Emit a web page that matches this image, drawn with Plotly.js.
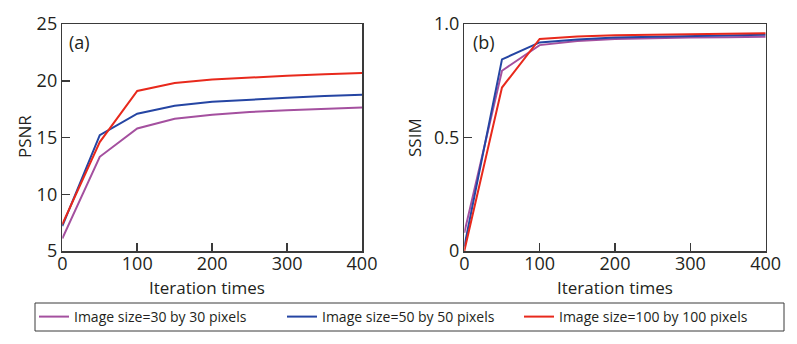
<!DOCTYPE html>
<html>
<head>
<meta charset="utf-8">
<script src="https://cdn.plot.ly/plotly-3.0.1.min.js"></script>
<style>
  body { margin: 0; background: #fff; }
  #chart { width: 797px; height: 344px; }
</style>
</head>
<body>
<div id="chart"></div>
<script>
// iteration counts
const iters = [0, 50, 100, 150, 200, 250, 300, 350, 400];

// PSNR per image size
const psnr30  = [6.1, 13.3, 15.8, 16.65, 17.0, 17.25, 17.4, 17.5, 17.65];
const psnr50  = [7.2, 15.2, 17.1, 17.8, 18.15, 18.35, 18.5, 18.65, 18.77];
const psnr100 = [7.35, 14.6, 19.1, 19.8, 20.1, 20.3, 20.45, 20.57, 20.68];

// SSIM per image size
const ssim30  = [0.08, 0.794, 0.907, 0.925, 0.934, 0.938, 0.940, 0.942, 0.944];
const ssim50  = [0.02, 0.844, 0.919, 0.932, 0.940, 0.944, 0.947, 0.950, 0.953];
const ssim100 = [0.0, 0.72, 0.934, 0.945, 0.950, 0.953, 0.955, 0.957, 0.959];

const names = ["Image size=30 by 30 pixels", "Image size=50 by 50 pixels", "Image size=100 by 100 pixels"];
const colors = ["#a4509f", "#2545a3", "#e8291c"];
const legendIds = ["legend", "legend2", "legend3"];

const psnrAll = [psnr30, psnr50, psnr100];
const ssimAll = [ssim30, ssim50, ssim100];

let data = [];
for (let k = 0; k < 3; k++) {
    data.push({
        x: iters, y: psnrAll[k], xaxis: "x", yaxis: "y",
        type: "scatter", mode: "lines", name: names[k],
        line: {color: colors[k], width: 2},
        legend: legendIds[k],
    });
}
for (let k = 0; k < 3; k++) {
    data.push({
        x: iters, y: ssimAll[k], xaxis: "x2", yaxis: "y2",
        type: "scatter", mode: "lines", name: names[k],
        line: {color: colors[k], width: 2},
        showlegend: false,
    });
}

const tickFont = {family: "Open Sans, sans-serif", size: 18, color: "#231f20"};
const titleFont = {family: "Open Sans, sans-serif", size: 17, color: "#231f20"};

function axisStyle() {
    return {
        showline: true, mirror: true, linecolor: "#3a3a3a", linewidth: 1.5,
        ticks: "inside", ticklen: 8, tickwidth: 1.5, tickcolor: "#3a3a3a",
        showgrid: false, zeroline: false, tickfont: tickFont,
    };
}

const legFont = {family: "Open Sans, sans-serif", size: 14, color: "#231f20"};
function legendAt(x) {
    return {
        x: x, y: 1 - 317 / 344, xanchor: "left", yanchor: "middle",
        orientation: "h", bgcolor: "rgba(0,0,0,0)", borderwidth: 0,
        font: legFont,
    };
}

// axis titles placed as paper annotations so they sit where the reference has them
function label(text, x, y, angle) {
    return {text: text, xref: "paper", yref: "paper", x: x / 797, y: 1 - y / 344,
            xanchor: "center", yanchor: "middle", showarrow: false,
            textangle: angle, font: titleFont};
}

let layout = {
    width: 797, height: 344,
    margin: {l: 0, r: 0, t: 0, b: 0},
    paper_bgcolor: "#fff", plot_bgcolor: "#fff",
    xaxis: Object.assign(axisStyle(), {
        domain: [62.3 / 797, 362 / 797], range: [0, 400],
        tickvals: [0, 100, 200, 300, 400], anchor: "y", ticklabelstandoff: -4,
    }),
    yaxis: Object.assign(axisStyle(), {
        domain: [1 - 251 / 344, 1 - 24 / 344], range: [5, 25],
        tickvals: [5, 10, 15, 20, 25], anchor: "x",
    }),
    xaxis2: Object.assign(axisStyle(), {
        domain: [464.3 / 797, 765.7 / 797], range: [0, 400],
        tickvals: [0, 100, 200, 300, 400], anchor: "y2", ticklabelstandoff: -4,
    }),
    yaxis2: Object.assign(axisStyle(), {
        domain: [1 - 251 / 344, 1 - 24 / 344], range: [0, 1],
        tickvals: [0, 0.5, 1], ticktext: ["0", "0.5", "1.0"], anchor: "x2",
    }),
    annotations: [
        label("Iteration times", 207, 287, 0),
        label("Iteration times", 615, 287, 0),
        label("PSNR", 24, 137, -90),
        label("SSIM", 414, 137, -90),
        {text: "(a)", xref: "paper", yref: "paper", x: 67 / 797, y: 1 - 42 / 344,
         xanchor: "left", yanchor: "middle", showarrow: false, font: tickFont},
        {text: "(b)", xref: "paper", yref: "paper", x: 471 / 797, y: 1 - 42 / 344,
         xanchor: "left", yanchor: "middle", showarrow: false, font: tickFont},
    ],
    shapes: [
        {type: "rect", xref: "paper", yref: "paper",
         x0: 35 / 797, x1: 784 / 797, y0: 1 - 331 / 344, y1: 1 - 303 / 344,
         line: {color: "#3a3a3a", width: 1}},
    ],
    legend: legendAt(34 / 797),
    legend2: legendAt(282 / 797),
    legend3: legendAt(519 / 797),
};

Plotly.newPlot("chart", data, layout, {displayModeBar: false, staticPlot: true});
</script>
</body>
</html>
